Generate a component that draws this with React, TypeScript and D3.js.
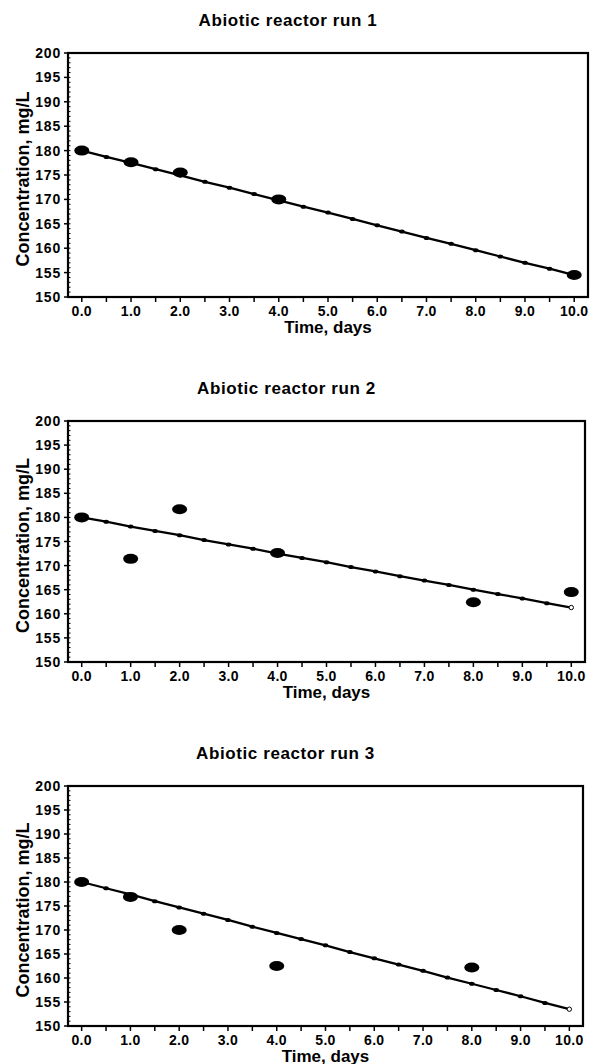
import * as d3 from "d3";

const titles = ["Abiotic reactor run 1", "Abiotic reactor run 2", "Abiotic reactor run 3"];

// measured days for each run
const run1Days = [0, 1, 2, 4, 10];
const run1Conc = [180, 177.6, 175.5, 170, 154.5];
const run2Days = [0, 1, 2, 4, 8, 10];
const run2Conc = [180, 171.4, 181.7, 172.6, 162.4, 164.5];
const run3Days = [0, 1, 2, 4, 8];
const run3Conc = [180, 176.9, 170, 162.5, 162.2];

// fitted curve, every half day
const fitDays = [0, 0.5, 1, 1.5, 2, 2.5, 3, 3.5, 4, 4.5, 5, 5.5, 6, 6.5, 7, 7.5, 8, 8.5, 9, 9.5, 10];
const run1Fit = [180, 178.7, 177.5, 176.2, 174.9, 173.6, 172.4, 171.1, 169.8, 168.5, 167.3, 166.0, 164.7, 163.4, 162.1, 160.9, 159.6, 158.3, 157.0, 155.8, 154.5];
const run2Fit = [180, 179.1, 178.1, 177.2, 176.3, 175.3, 174.4, 173.5, 172.5, 171.6, 170.7, 169.7, 168.8, 167.8, 166.9, 166.0, 165.0, 164.1, 163.2, 162.2, 161.3];
const run3Fit = [180, 178.7, 177.4, 176.0, 174.7, 173.4, 172.1, 170.7, 169.4, 168.1, 166.8, 165.4, 164.1, 162.8, 161.5, 160.1, 158.8, 157.5, 156.2, 154.8, 153.5];

const yTicks = [150, 155, 160, 165, 170, 175, 180, 185, 190, 195, 200];
const xLabels = [0, 1, 2, 3, 4, 5, 6, 7, 8, 9, 10];

const runs = [
  { title: titles[0], days: run1Days, conc: run1Conc, fit: run1Fit, openEnd: false },
  { title: titles[1], days: run2Days, conc: run2Conc, fit: run2Fit, openEnd: true },
  { title: titles[2], days: run3Days, conc: run3Conc, fit: run3Fit, openEnd: true },
];

// panel placement
const layout = [
  { top: 53, bottom: 297, right: 588 },
  { top: 421, bottom: 662, right: 585 },
  { top: 786, bottom: 1026, right: 583 },
];

const font = "'Liberation Sans', Arial, sans-serif";

const Panel = ({ run, box }) => {
  const left = 68;
  const x = d3.scaleLinear().domain([-0.28, 10.28]).range([left, box.right]);
  const y = d3.scaleLinear().domain([150, 200]).range([box.bottom, box.top]);
  const line = d3
    .line<number>()
    .x((d, i) => x(fitDays[i]))
    .y((d) => y(d));
  const minorY = d3.range(150, 201, 1);
  const halfDays = d3.range(0, 10.01, 0.5);
  const cx = (left + box.right) / 2;

  return (
    <g>
      <text x={cx - 40} y={box.top - 27} textAnchor="middle" fontSize={17} fontWeight="bold" fontFamily={font} letterSpacing={0.6}>
        {run.title}
      </text>
      <rect x={left} y={box.top} width={box.right - left} height={box.bottom - box.top} fill="none" stroke="#000" strokeWidth={2.2} />
      {minorY.map((v) => (
        <line key={"m" + v} x1={left} x2={left + 2.5} y1={y(v)} y2={y(v)} stroke="#000" strokeWidth={1} />
      ))}
      {yTicks.map((v) => (
        <g key={"y" + v}>
          <line x1={left - 4} x2={left} y1={y(v)} y2={y(v)} stroke="#000" strokeWidth={1.5} />
          <text x={left - 7} y={y(v)} dy="0.36em" textAnchor="end" fontSize={14} fontWeight="bold" fontFamily={font} letterSpacing={0.8}>
            {v}
          </text>
        </g>
      ))}
      {halfDays.map((v) => (
        <line key={"x" + v} x1={x(v)} x2={x(v)} y1={box.bottom} y2={box.bottom + 5} stroke="#000" strokeWidth={1.5} />
      ))}
      {xLabels.map((v) => (
        <text key={"xl" + v} x={x(v)} y={box.bottom + 19} textAnchor="middle" fontSize={14} fontWeight="bold" fontFamily={font} letterSpacing={0.3}>
          {d3.format(".1f")(v)}
        </text>
      ))}
      <text x={cx} y={box.bottom + 35.5} textAnchor="middle" fontSize={17} fontWeight="bold" fontFamily={font}>
        Time, days
      </text>
      <text
        transform={`translate(29,${(box.top + box.bottom) / 2 + 4}) rotate(-90)`}
        textAnchor="middle"
        fontSize={18}
        fontWeight="bold"
        fontFamily={font}
      >
        Concentration, mg/L
      </text>
      <path d={line(run.fit) || ""} fill="none" stroke="#000" strokeWidth={2.3} />
      {run.fit.map((v, i) =>
        run.openEnd && i === run.fit.length - 1 ? (
          <circle key={"f" + i} cx={x(fitDays[i])} cy={y(v)} r={2.2} fill="#fff" stroke="#000" strokeWidth={1} />
        ) : (
          <ellipse key={"f" + i} cx={x(fitDays[i])} cy={y(v)} rx={2.8} ry={2} fill="#000" />
        )
      )}
      {run.days.map((d, i) => (
        <ellipse key={"p" + i} cx={x(d)} cy={y(run.conc[i])} rx={7.5} ry={5} fill="#000" />
      ))}
    </g>
  );
};

export default function App() {
  return (
    <svg width={591} height={1064} style={{ position: "absolute", left: 0, top: 0, background: "#fff" }}>
      <rect width={591} height={1064} fill="#fff" />
      {runs.map((run, i) => (
        <Panel key={i} run={run} box={layout[i]} />
      ))}
    </svg>
  );
}
